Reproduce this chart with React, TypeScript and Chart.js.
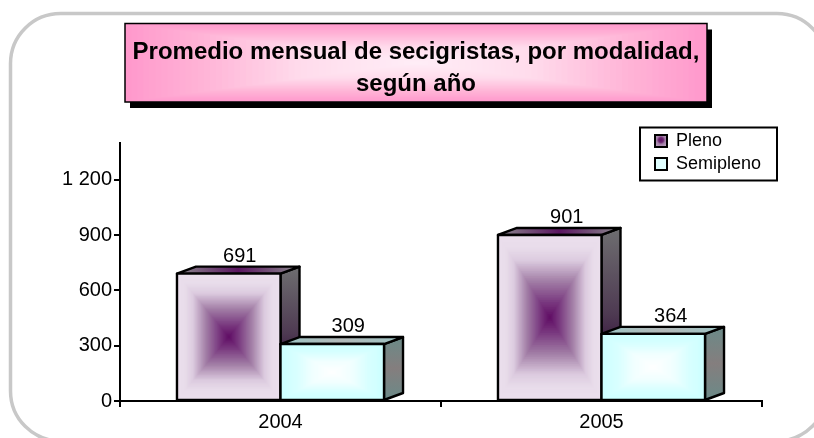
import React, { useEffect, useRef } from "react";
import { Chart, registerables } from "chart.js";

Chart.register(...registerables);

const years = ["2004", "2005"];
const plenoValues = [691, 901];
const semiplenoValues = [309, 364];
const yTicks = [0, 300, 600, 900, 1200];
const titleLines = ["Promedio mensual de secigristas, por modalidad,", "según año"];
const FONT = "'Liberation Sans', Arial, sans-serif";

type Stop = [number, string];
const plenoFace: Stop[] = [[0, "#5f0a63"], [0.2, "#7a3a80"], [0.45, "#a27ea6"], [0.7, "#dccbdf"], [0.85, "#e8dcea"], [1, "#ebdfed"]];
const semiFace: Stop[] = [[0, "#ffffff"], [0.4, "#f0ffff"], [0.7, "#d8ffff"], [1, "#ccffff"]];
const titleFace: Stop[] = [[0, "#ffeef7"], [0.4, "#ffdcec"], [0.75, "#ffb3d6"], [1, "#ff99cc"]];

function hex(c: string) {
  return [1, 3, 5].map((i) => parseInt(c.slice(i, i + 2), 16));
}
function mix(stops: Stop[], t: number) {
  for (let i = 1; i < stops.length; i++) {
    if (t <= stops[i][0]) {
      const a = hex(stops[i - 1][1]);
      const b = hex(stops[i][1]);
      const k = (t - stops[i - 1][0]) / (stops[i][0] - stops[i - 1][0]);
      return `rgb(${a.map((v, j) => Math.round(v + (b[j] - v) * k)).join(",")})`;
    }
  }
  return stops[stops.length - 1][1];
}

function rectGradient(ctx: CanvasRenderingContext2D, x: number, y: number, w: number, h: number, stops: Stop[]) {
  const n = 48;
  const cx = x + w / 2;
  const cy = y + h / 2;
  for (let i = n; i >= 1; i--) {
    const t = i / n;
    ctx.fillStyle = mix(stops, t);
    ctx.fillRect(cx - (w / 2) * t, cy - (h / 2) * t, w * t, h * t);
  }
}

const DX = 19;
const DY = 7;
// hand nudges of each value label from its bar's centre, [Pleno, Semipleno] per year
const labelNudge = [[11, 16], [17, 17.5]];

function poly(ctx: CanvasRenderingContext2D, pts: number[][]) {
  ctx.beginPath();
  pts.forEach((p, i) => (i ? ctx.lineTo(p[0], p[1]) : ctx.moveTo(p[0], p[1])));
  ctx.closePath();
}

const barsPlugin = {
  id: "bars3d",
  beforeDraw(chart: any) {
    const { ctx } = chart;
    ctx.save();
    ctx.strokeStyle = "#c8c8c8";
    ctx.lineWidth = 3.5;
    ctx.beginPath();
    ctx.roundRect(10.5, 13.5, 816.5, 427.5, 50);
    ctx.stroke();

    // title box
    const x = 125, y = 23.5, w = 582, h = 78.5;
    ctx.fillStyle = "#000";
    ctx.fillRect(x + 5, y + 6, w, h);
    rectGradient(ctx, x, y, w, h, titleFace);
    ctx.strokeStyle = "#000";
    ctx.lineWidth = 1.5;
    ctx.strokeRect(x, y, w, h);
    ctx.restore();
  },
  afterLayout(chart: any) {
    const l = chart.legend;
    l.left = 650; l.right = 777; l.top = 127; l.bottom = 181;
    l.width = 127; l.height = 54;
    l.adjustHitBoxes();
  },
  afterDatasetsDraw(chart: any) {
    const { ctx } = chart;
    chart.data.datasets.forEach((ds: any, di: number) => {
      const meta = chart.getDatasetMeta(di);
      meta.data.forEach((bar: any, i: number) => {
        const { x, y, base, width } = bar;
        const left = x - width / 2;
        const right = x + width / 2;
        const h = base - y;
        ctx.save();
        ctx.lineJoin = "round";
        ctx.strokeStyle = "#000";
        ctx.lineWidth = 2.4;
        // side
        poly(ctx, [[right, y], [right + DX, y - DY], [right + DX, base - DY], [right, base]]);
        const sg = ctx.createLinearGradient(0, y - DY, 0, base);
        if (di === 0) {
          sg.addColorStop(0, "#6e6e70");
          sg.addColorStop(0.5, "#4e3a52");
          sg.addColorStop(0.75, "#33103a");
          sg.addColorStop(1, "#33103a");
        } else {
          sg.addColorStop(0, "#6b8a88");
          sg.addColorStop(0.5, "#847e7e");
          sg.addColorStop(1, "#6b8a88");
        }
        ctx.fillStyle = sg;
        ctx.fill();
        ctx.stroke();
        // top
        poly(ctx, [[left, y], [left + DX, y - DY], [right + DX, y - DY], [right, y]]);
        const tg = ctx.createLinearGradient(left, 0, right + DX, 0);
        if (di === 0) {
          tg.addColorStop(0, "#8c8a8e");
          tg.addColorStop(0.5, "#5a1560");
          tg.addColorStop(1, "#8c8a8e");
        } else {
          tg.addColorStop(0, "#9cc4c4");
          tg.addColorStop(0.5, "#b2b8b8");
          tg.addColorStop(1, "#9cc4c4");
        }
        ctx.fillStyle = tg;
        ctx.fill();
        ctx.stroke();
        // front
        rectGradient(ctx, left, y, width, h, di === 0 ? plenoFace : semiFace);
        ctx.strokeRect(left, y, width, h);
        // value
        ctx.fillStyle = "#000";
        ctx.font = `20px ${FONT}`;
        ctx.textAlign = "center";
        ctx.textBaseline = "alphabetic";
        ctx.fillText(String(ds.data[i]), x + labelNudge[i][di], y - 12);
        ctx.restore();
      });
    });
  },
  afterDraw(chart: any) {
    const { ctx } = chart;
    ctx.save();
    ctx.strokeStyle = "#000";
    ctx.lineWidth = 2;
    ctx.strokeRect(640, 127.5, 137, 53);
    ctx.fillStyle = "#000";
    ctx.font = `bold 24px ${FONT}`;
    ctx.textAlign = "center";
    ctx.textBaseline = "alphabetic";
    ctx.fillText(titleLines[0], 416, 59);
    ctx.fillText(titleLines[1], 416, 91);
    ctx.restore();
  },
};

export default function App() {
  const ref = useRef<HTMLCanvasElement>(null);
  useEffect(() => {
    const chart = new Chart(ref.current!, {
      type: "bar",
      data: {
        labels: years,
        datasets: [
          { label: "Pleno", data: plenoValues, backgroundColor: "transparent" },
          { label: "Semipleno", data: semiplenoValues, backgroundColor: "transparent" },
        ],
      },
      plugins: [barsPlugin],
      options: {
        responsive: false,
        animation: false,
        layout: { padding: { top: 143, right: 52, bottom: 0, left: 0 } },
        datasets: { bar: { categoryPercentage: 0.645, barPercentage: 1 } },
        scales: {
          x: {
            grid: {
              display: true,
              offset: true,
              drawOnChartArea: false,
              tickLength: 6,
              lineWidth: 2,
              tickColor: "#000",
            },
            border: { color: "#000", width: 2 },
            ticks: { color: "#000", font: { family: FONT, size: 20 }, padding: 3 },
            afterFit: (s: any) => {
              s.height = 37;
            },
          },
          y: {
            min: 0,
            max: 1400,
            afterBuildTicks: (s: any) => {
              s.ticks = yTicks.map((value) => ({ value }));
            },
            grid: { display: true, drawOnChartArea: false, color: "#000", tickLength: 6, lineWidth: 2 },
            border: { color: "#000", width: 2 },
            ticks: {
              color: "#000",
              font: { family: FONT, size: 20 },
              padding: 2,
              callback: (v: any) => String(v).replace(/\B(?=(\d{3})+$)/g, " "),
            },
            afterFit: (s: any) => {
              s.width = 120;
            },
          },
        },
        plugins: {
          title: { display: false },
          tooltip: { enabled: false },
          legend: {
            position: "chartArea" as any,
            align: "start",
            labels: {
              color: "#000",
              font: { family: FONT, size: 18 },
              boxWidth: 12,
              boxHeight: 12,
              padding: 5,
              generateLabels: (c: any) =>
                c.data.datasets.map((d: any, i: number) => {
                  let fill: any = "#e0ffff";
                  if (i === 0) {
                    fill = c.ctx.createRadialGradient(661, 140, 0, 661, 140, 7);
                    fill.addColorStop(0, "#5f0a63");
                    fill.addColorStop(0.35, "#6f2a74");
                    fill.addColorStop(0.6, "#a27ea6");
                    fill.addColorStop(1, "#b79bbb");
                  }
                  return {
                    text: d.label,
                    datasetIndex: i,
                    fillStyle: fill,
                    strokeStyle: "#000",
                    lineWidth: 2,
                    fontColor: "#000",
                  };
                }),
            },
          },
        },
      },
    } as any);
    return () => chart.destroy();
  }, []);
  return (
    <div style={{ position: "absolute", left: 0, top: 0, width: 814, height: 438, overflow: "hidden", background: "#fff" }}>
      <canvas ref={ref} width={814} height={438} style={{ display: "block" }} />
    </div>
  );
}
